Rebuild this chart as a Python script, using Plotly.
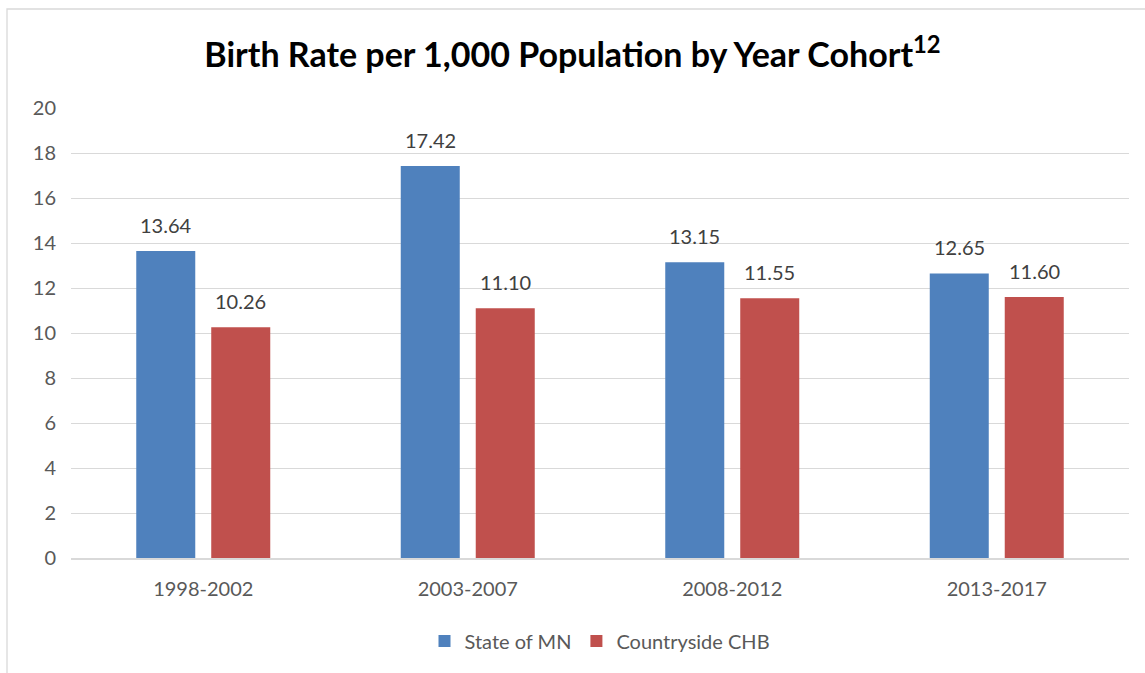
import plotly.graph_objects as go

categories = ["1998-2002", "2003-2007", "2008-2012", "2013-2017"]
state_mn = [13.64, 17.42, 13.15, 12.65]
countryside_chb = [10.26, 11.10, 11.55, 11.60]
series_names = ["State of MN", "Countryside CHB"]
y_ticks = [0, 2, 4, 6, 8, 10, 12, 14, 16, 18, 20]

FONT = "Lato"
GRAY = "#595959"
colors = ["#4f81bd", "#c0504d"]

W, H = 1145, 673
ml, mr, mt, mb = 71, 16, 108, 115
pw, ph = W - ml - mr, H - mt - mb

fig = go.Figure()
for name, vals, col in zip(series_names, [state_mn, countryside_chb], colors):
    fig.add_trace(go.Bar(x=categories, y=vals, name=name, marker=dict(color=col, line=dict(width=0))))

# data labels
for vals, shift in [(state_mn, -37.5), (countryside_chb, 37.5)]:
    for c, v in zip(categories, vals):
        fig.add_annotation(x=c, y=v, xref="x", yref="y", text=f"{v:.2f}", showarrow=False,
                           xshift=shift, yshift=26, font=dict(family=FONT, size=20, color="#404040"))

# chart-area border
fig.add_shape(type="rect", xref="paper", yref="paper",
              x0=(7 - ml) / pw, x1=(W + 5 - ml) / pw,
              y0=-(H + 5 - mt - ph) / ph, y1=(H - 9 - mb) / ph,
              line=dict(color="#d9d9d9", width=1.3), fillcolor="rgba(0,0,0,0)", layer="below")

fig.update_layout(
    width=W, height=H,
    margin=dict(l=ml, r=mr, t=mt, b=mb, autoexpand=False),
    paper_bgcolor="white", plot_bgcolor="white",
    title=dict(text="<b>Birth Rate per 1,000 Population by Year Cohort<sup style='font-size:70%'>12</sup></b>",
               x=0.5, xanchor="center", y=1 - 55 / H, yanchor="middle",
               font=dict(family=FONT, size=34, color="black")),
    barmode="group", bargap=0.433, bargroupgap=0.213,
    font=dict(family=FONT, size=20, color=GRAY),
    showlegend=True,
    legend=dict(orientation="h", x=0.5, xanchor="center", y=-(641 - 558) / ph, yanchor="middle",
                font=dict(family=FONT, size=20, color=GRAY), itemwidth=30, traceorder="normal"),
    xaxis=dict(showline=True, linecolor="#d9d9d9", linewidth=1.5, ticks="", showgrid=False,
               tickfont=dict(family=FONT, size=20, color=GRAY), ticklabelstandoff=12),
    yaxis=dict(range=[0, 20], tickvals=y_ticks, showgrid=True, gridcolor="#d9d9d9", gridwidth=1.3,
               zeroline=False, showline=False, ticks="",
               tickfont=dict(family=FONT, size=20, color=GRAY), ticklabelstandoff=14),
)

fig.write_html("out.html")
